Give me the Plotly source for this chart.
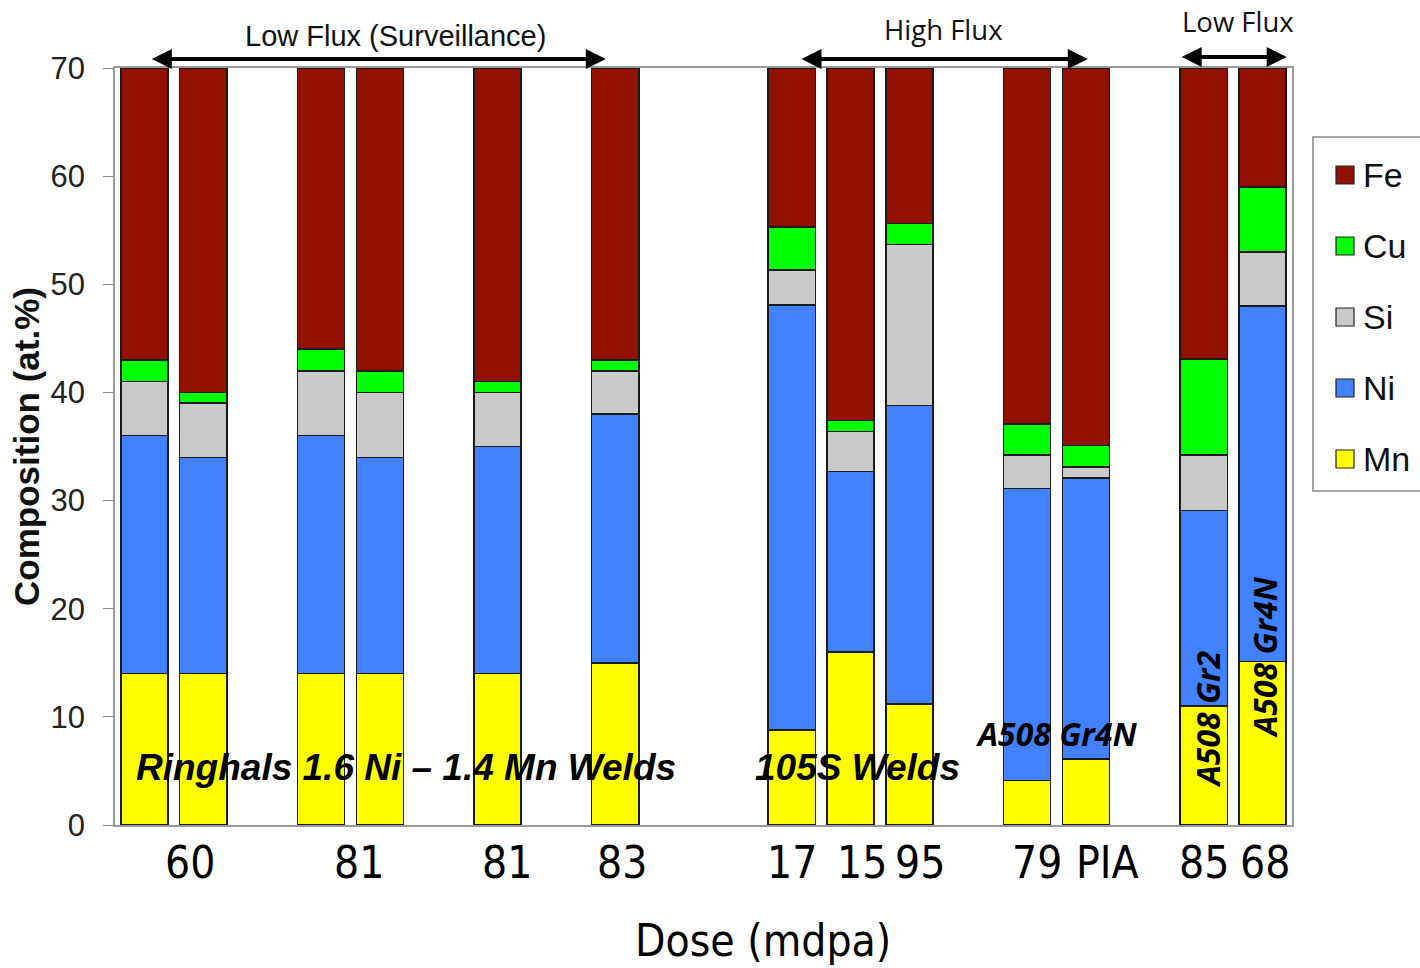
import plotly.graph_objects as go

# ---- data ----
slots = ["R1", "R2", "g1", "R3", "R4", "g2", "R5", "g3", "R6", "g4", "g5",
         "105S-1", "105S-2", "105S-3", "g6", "Gr4N-1", "Gr4N-2", "g7", "Gr2", "Gr4N-3"]
Mn = [14, 14, None, 14, 14, None, 14, None, 15, None, None, 8.8, 16.0, 11.2, None, 4.1, 6.1, None, 11.0, 15.1]
Ni = [22, 20, None, 22, 20, None, 21, None, 23, None, None, 39.3, 16.7, 27.6, None, 27.0, 26.0, None, 18.1, 32.9]
Si = [5, 5, None, 6, 6, None, 5, None, 4, None, None, 3.2, 3.7, 14.9, None, 3.1, 1.0, None, 5.1, 5.0]
Cu = [2, 1, None, 2, 2, None, 1, None, 1, None, None, 4.0, 1.0, 1.9, None, 2.9, 2.0, None, 8.9, 6.0]
Fe = [27, 30, None, 26, 28, None, 29, None, 27, None, None, 14.7, 32.6, 14.4, None, 32.9, 34.9, None, 26.9, 11.0]

series_names = ["Mn", "Ni", "Si", "Cu", "Fe"]
series_vals = [Mn, Ni, Si, Cu, Fe]
series_colors = ["#FFFF00", "#4281FF", "#CACACA", "#00FF00", "#921100"]

dose_labels = ["60", "81", "81", "83", "17", "15", "95", "79", "PIA", "85", "68"]
dose_pos = [0.77, 3.65, 6.16, 8.12, 11.0, 12.19, 13.18, 15.17, 16.36, 18.0, 19.04]

y_ticks = [0, 10, 20, 30, 40, 50, 60, 70]

fig = go.Figure()
for name, vals, col in zip(series_names, series_vals, series_colors):
    fig.add_trace(go.Bar(x=slots, y=vals, name=name, marker=dict(color=col, line=dict(color="#1a1a1a", width=1.5)),
                         width=0.8, showlegend=False))

fig.update_layout(
    barmode="stack",
    width=1420, height=968,
    margin=dict(l=115, r=128, t=68, b=143),
    paper_bgcolor="white", plot_bgcolor="white",
    xaxis=dict(type="category", range=[-0.5, 19.5], showticklabels=False, ticks="",
               showline=True, linecolor="#9a9a9a", linewidth=1.5, mirror=True, showgrid=False),
    yaxis=dict(range=[0, 70], tickvals=y_ticks, ticks="outside", ticklen=10, tickcolor="#888",
               tickfont=dict(family="Liberation Sans, Arial", size=31, color="#222"),
               ticklabelstandoff=12,
               showline=True, linecolor="#9a9a9a", linewidth=1.5, mirror=True, showgrid=False,
               title=dict(text="<b>Composition (at.%)</b>", font=dict(family="Liberation Sans, Arial", size=35, color="#111"),
                          standoff=0)),
)

dose_font = dict(family="Liberation Sans Narrow, DejaVu Sans Condensed, Arial Narrow, sans-serif", size=44, color="black")
for lab, p in zip(dose_labels, dose_pos):
    fig.add_annotation(x=p, y=-0.049, xref="x", yref="paper", text=lab, showarrow=False,
                       font=dose_font, xanchor="center", yanchor="middle")
fig.add_annotation(x=10.51, y=-0.153, xref="x", yref="paper", text="Dose (mdpa)", showarrow=False,
                   font=dose_font, xanchor="center", yanchor="middle")

# in-plot labels
bi = dict(family="Liberation Sans, Arial", size=37, color="black")
fig.add_annotation(x=4.45, y=5.3, xref="x", yref="y", text="<b><i>Ringhals 1.6 Ni – 1.4 Mn Welds</i></b>",
                   showarrow=False, font=bi, xanchor="center", yanchor="middle")
fig.add_annotation(x=12.11, y=5.3, xref="x", yref="y", text="<b><i>105S Welds</i></b>",
                   showarrow=False, font=bi, xanchor="center", yanchor="middle")
cf = dict(family="Open Sans, sans-serif", size=32, color="black")
fig.add_annotation(x=15.5, y=8.5, xref="x", yref="y", text="<b><i>A508 Gr4N</i></b>",
                   showarrow=False, font=cf, xanchor="center", yanchor="middle")
fig.add_annotation(x=18.06, y=9.8, xref="x", yref="y", text="<b><i>A508 Gr2</i></b>", textangle=-90,
                   showarrow=False, font=cf, xanchor="center", yanchor="middle")
fig.add_annotation(x=19.03, y=15.5, xref="x", yref="y", text="<b><i>A508 Gr4N</i></b>", textangle=-90,
                   showarrow=False, font=cf, xanchor="center", yanchor="middle")

# flux arrows: (label, arrow start, arrow end, arrow y, text x, text y, font, size)
flux = [("Low Flux (Surveillance)", 0.10, 7.84, 1.0119, 4.26, 1.0423, "Liberation Sans, Arial", 29),
        ("High Flux", 11.14, 16.03, 1.0119, 13.58, 1.0515, "Open Sans, sans-serif", 27.5),
        ("Low Flux", 17.6, 19.41, 1.0145, 18.58, 1.062, "Open Sans, sans-serif", 27.5)]
for txt, x0, x1, ya, xt, yt, fam, fs in flux:
    fig.add_annotation(x=x1, y=ya, ax=x0, ay=0, xref="x", yref="paper", axref="x", ayref="pixel",
                       text="", showarrow=True, arrowhead=2, startarrowhead=2, arrowside="end+start",
                       arrowsize=1.0, startarrowsize=1.0, arrowwidth=4, arrowcolor="black")
    fig.add_annotation(x=xt, y=yt, xref="x", yref="paper", text=txt, showarrow=False,
                       font=dict(family=fam, size=fs, color="#111"), xanchor="center", yanchor="middle")

# legend (manual)
leg_names = ["Fe", "Cu", "Si", "Ni", "Mn"]
leg_cols = ["#921100", "#00FF00", "#CACACA", "#4281FF", "#FFFF00"]
fig.add_shape(type="rect", xref="paper", yref="paper", x0=1.0178, x1=1.12, y0=(825 - 491) / 757, y1=(825 - 137) / 757,
              line=dict(color="#888", width=1.5), fillcolor="white")
for i, (n, c) in enumerate(zip(leg_names, leg_cols)):
    yc = (825 - (175 + 71 * i)) / 757
    fig.add_shape(type="rect", xref="paper", yref="paper",
                  x0=(1336 - 115) / 1177, x1=(1354 - 115) / 1177, y0=yc - 9 / 757, y1=yc + 9 / 757,
                  line=dict(color="#222", width=1.2), fillcolor=c)
    fig.add_annotation(x=(1361 - 115) / 1177, y=yc, xref="paper", yref="paper", text=n, showarrow=False,
                       font=dict(family="Liberation Sans, Arial", size=34, color="#111"), xanchor="left", yanchor="middle")

fig.write_html("out.html")
